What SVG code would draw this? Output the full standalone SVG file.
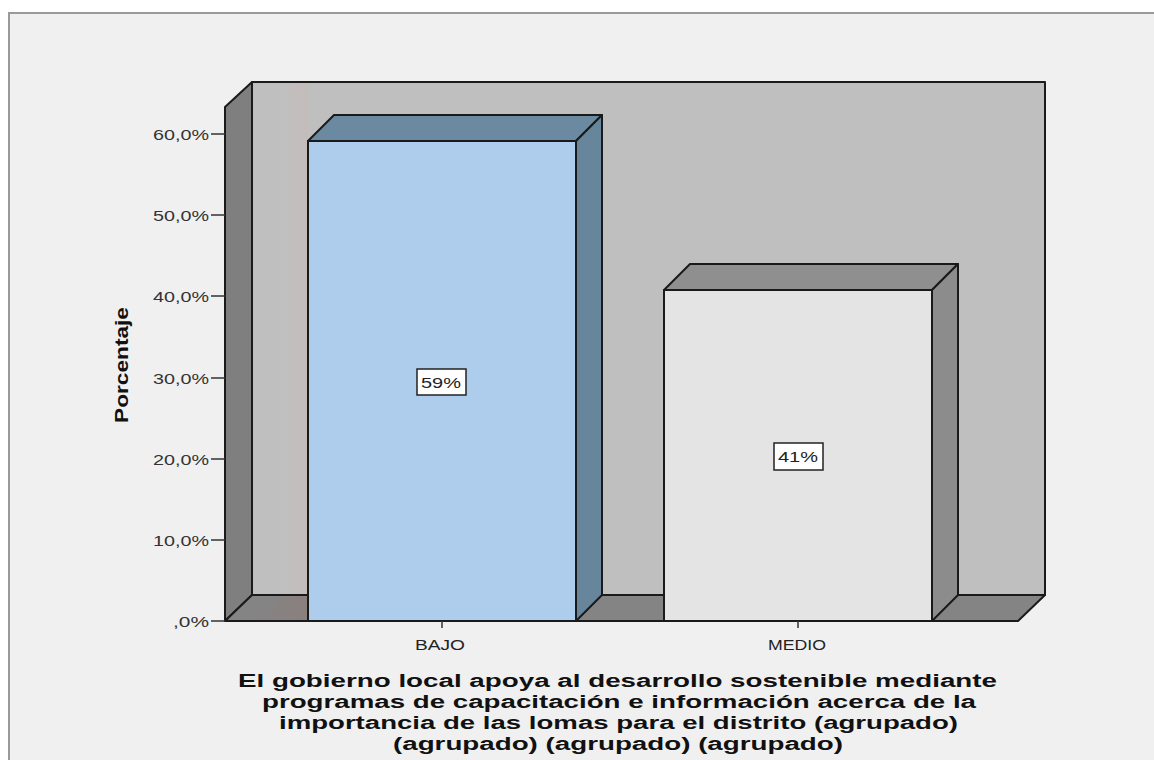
<svg xmlns="http://www.w3.org/2000/svg" width="1154" height="760" viewBox="0 0 1154 760">
<defs>
<style>
.edge{stroke:#1a1a1a;stroke-width:2;stroke-linejoin:round}
.tick{stroke:#333;stroke-width:1.5}
.yl{font-family:"Liberation Sans",Arial,sans-serif;font-size:15px;fill:#333;text-anchor:end}
.cl{font-family:"Liberation Sans",Arial,sans-serif;font-size:15px;fill:#222;text-anchor:middle}
.vl{font-family:"Liberation Sans",Arial,sans-serif;font-size:15px;fill:#222;text-anchor:middle}
.tt{font-family:"Liberation Sans",Arial,sans-serif;font-size:18px;font-weight:bold;fill:#111;text-anchor:middle}
</style>
<linearGradient id="wallg" x1="0" y1="0" x2="1" y2="0">
<stop offset="0" stop-color="#c0c0c0"/>
<stop offset="1" stop-color="#c4bcba"/>
</linearGradient>
<linearGradient id="floorg" x1="0" y1="0" x2="1" y2="0">
<stop offset="0" stop-color="#848484"/>
<stop offset="1" stop-color="#8a807e"/>
</linearGradient>
</defs>
<rect x="0" y="0" width="1154" height="760" fill="#ffffff"/>
<rect x="9" y="13" width="1160" height="760" fill="#f0f0f0" stroke="#9a9a9a" stroke-width="2"/>

<g id="chart-frame">
<rect x="252" y="82" width="793" height="513" fill="#bfbfbf" class="edge"/>
<rect x="280" y="83" width="28" height="511" fill="url(#wallg)"/>
<polygon points="225,107 252,82 252,595 225,621" fill="#7f7f7f" class="edge"/>
<polygon points="225,621 252,595 1045,595 1018,621" fill="#848484" class="edge"/>
<polygon points="280,596 308,596 308,620 254,620" fill="url(#floorg)"/>
<line x1="225" y1="621" x2="1018" y2="621" class="edge"/>
</g>

<g id="y-axis">
<line x1="211" y1="621" x2="225" y2="621" class="tick"/>
<line x1="211" y1="540" x2="225" y2="540" class="tick"/>
<line x1="211" y1="459" x2="225" y2="459" class="tick"/>
<line x1="211" y1="378" x2="225" y2="378" class="tick"/>
<line x1="211" y1="296" x2="225" y2="296" class="tick"/>
<line x1="211" y1="215" x2="225" y2="215" class="tick"/>
<line x1="211" y1="134" x2="225" y2="134" class="tick"/>
<text x="209" y="627" class="yl" textLength="36" lengthAdjust="spacingAndGlyphs">,0%</text>
<text x="209" y="546" class="yl" textLength="56" lengthAdjust="spacingAndGlyphs">10,0%</text>
<text x="209" y="465" class="yl" textLength="56" lengthAdjust="spacingAndGlyphs">20,0%</text>
<text x="209" y="384" class="yl" textLength="56" lengthAdjust="spacingAndGlyphs">30,0%</text>
<text x="209" y="302" class="yl" textLength="56" lengthAdjust="spacingAndGlyphs">40,0%</text>
<text x="209" y="221" class="yl" textLength="56" lengthAdjust="spacingAndGlyphs">50,0%</text>
<text x="209" y="140" class="yl" textLength="56" lengthAdjust="spacingAndGlyphs">60,0%</text>
<text transform="translate(128,365) rotate(-90)" font-family="Liberation Sans,Arial,sans-serif" font-size="18" font-weight="bold" fill="#111" text-anchor="middle" textLength="116" lengthAdjust="spacingAndGlyphs">Porcentaje</text>
</g>

<g id="bar-bajo">
<polygon points="308,141 334,115 602,115 576,141" fill="#6b8aa1" class="edge"/>
<polygon points="576,141 602,115 602,595 576,621" fill="#67869c" class="edge"/>
<rect x="308" y="141" width="268" height="480" fill="#aecdec" class="edge"/>
<rect x="417" y="369" width="49" height="26" fill="#ffffff" stroke="#222" stroke-width="1.5"/>
<text x="441" y="388" class="vl" textLength="40" lengthAdjust="spacingAndGlyphs">59%</text>
</g>

<g id="bar-medio">
<polygon points="664,290 690,264 958,264 932,290" fill="#8f8f8f" class="edge"/>
<polygon points="932,290 958,264 958,595 932,621" fill="#8c8c8c" class="edge"/>
<rect x="664" y="290" width="268" height="331" fill="#e4e4e4" class="edge"/>
<rect x="774" y="443" width="49" height="27" fill="#ffffff" stroke="#222" stroke-width="1.5"/>
<text x="798" y="462" class="vl" textLength="40" lengthAdjust="spacingAndGlyphs">41%</text>
</g>

<g id="x-axis">
<line x1="442" y1="621" x2="442" y2="628" class="tick"/>
<line x1="798" y1="621" x2="798" y2="628" class="tick"/>
<text x="440" y="650" class="cl" textLength="50" lengthAdjust="spacingAndGlyphs">BAJO</text>
<text x="797" y="650" class="cl" textLength="58" lengthAdjust="spacingAndGlyphs">MEDIO</text>
</g>

<g id="title">
<text x="617.5" y="687" class="tt" textLength="759" lengthAdjust="spacingAndGlyphs">El gobierno local apoya al desarrollo sostenible mediante</text>
<text x="619" y="708" class="tt" textLength="714" lengthAdjust="spacingAndGlyphs">programas de capacitación e información acerca de la</text>
<text x="618.5" y="729" class="tt" textLength="679" lengthAdjust="spacingAndGlyphs">importancia de las lomas para el distrito (agrupado)</text>
<text x="618" y="750" class="tt" textLength="450" lengthAdjust="spacingAndGlyphs">(agrupado) (agrupado) (agrupado)</text>
</g>
</svg>
